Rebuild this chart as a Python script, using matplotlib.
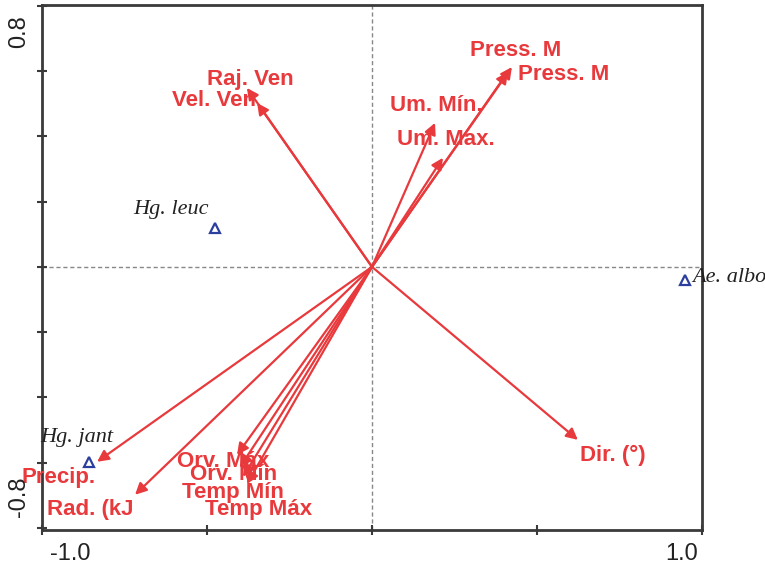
import matplotlib.pyplot as plt

# Environmental variables (arrow tips on axes 1 and 2)
env_names = ["Raj. Ven", "Vel. Ven", "Press. M", "Press. M", "Um. Mín.", "Um. Max.",
             "Dir. (°)", "Precip.", "Rad. (kJ", "Orv. Máx", "Orv. Mín", "Temp Mín", "Temp Máx"]
env_x = [-0.379, -0.348, 0.424, 0.412, 0.191, 0.215,
         0.624, -0.833, -0.718, -0.409, -0.400, -0.391, -0.379]
env_y = [0.548, 0.502, 0.612, 0.597, 0.441, 0.334,
         -0.530, -0.597, -0.698, -0.576, -0.613, -0.643, -0.665]

# Species scores
sp_names = ["Hg. leuc", "Ae. albo", "Hg. jant"]
sp_x = [-0.476, 0.948, -0.858]
sp_y = [0.119, -0.040, -0.597]

# where each label is written (left edge, vertical centre)
env_label_xy = [(-0.500, 0.573), (-0.606, 0.511), (0.297, 0.662), (0.442, 0.588),
                (0.055, 0.493), (0.076, 0.389), (0.630, -0.579), (-1.061, -0.646),
                (-0.985, -0.744), (-0.591, -0.597), (-0.552, -0.637), (-0.576, -0.692),
                (-0.506, -0.744)]
sp_label_xy = [(-0.494, 0.175, "right"), (0.970, -0.034, "left"), (-1.006, -0.524, "left")]

red = "#e8393c"
blue = "#2b3f9e"

fig = plt.figure(figsize=(7.65, 5.68), dpi=100)
ax = fig.add_axes([0.0549, 0.0669, 0.8627, 0.9243])
ax.set_xlim(-1.0, 1.0)
ax.set_ylim(-0.806, 0.802)

ax.axhline(0, color="#888888", lw=1, ls=(0, (3, 2)), zorder=1)
ax.axvline(0, color="#888888", lw=1, ls=(0, (3, 2)), zorder=1)

for x, y in zip(env_x, env_y):
    ax.annotate("", xy=(x, y), xytext=(0, 0),
                arrowprops=dict(arrowstyle="-|>", color=red, lw=1.6,
                                mutation_scale=17, shrinkA=0, shrinkB=0))

for name, (lx, ly) in zip(env_names, env_label_xy):
    ax.text(lx, ly, name, color=red, fontsize=16, fontweight="bold",
            family="Liberation Sans", ha="left", va="center", clip_on=False)

ax.plot(sp_x, sp_y, ls="none", marker="^", ms=7, mfc="none", mec=blue, mew=1.6,
        clip_on=False, zorder=5)
for name, (lx, ly, ha) in zip(sp_names, sp_label_xy):
    ax.text(lx, ly, name, fontsize=16, style="italic", family="Liberation Serif",
            color="#222222", ha=ha, va="center", clip_on=False)

for side in ax.spines.values():
    side.set_linewidth(2)
    side.set_color("#3a3a3a")

ax.set_xticks([-1.0, -0.5, 0.0, 0.5, 1.0])
ax.set_yticks([-0.8, -0.6, -0.4, -0.2, 0.0, 0.2, 0.4, 0.6, 0.8])
ax.tick_params(direction="inout", length=7, width=1.5, color="#3a3a3a",
               labelbottom=False, labelleft=False)

# end labels of the axes
fig.text(0.065, 0.0246, "-1.0", fontsize=17, family="Liberation Sans",
         ha="left", va="center", color="#222222")
fig.text(0.912, 0.0246, "1.0", fontsize=17, family="Liberation Sans",
         ha="right", va="center", color="#222222")
fig.text(0.0248, 0.9437, "0.8", fontsize=17, family="Liberation Sans",
         rotation=90, ha="center", va="center", color="#222222")
fig.text(0.0248, 0.125, "-0.8", fontsize=17, family="Liberation Sans",
         rotation=90, ha="center", va="center", color="#222222")

fig.savefig("out.png", dpi=100)
